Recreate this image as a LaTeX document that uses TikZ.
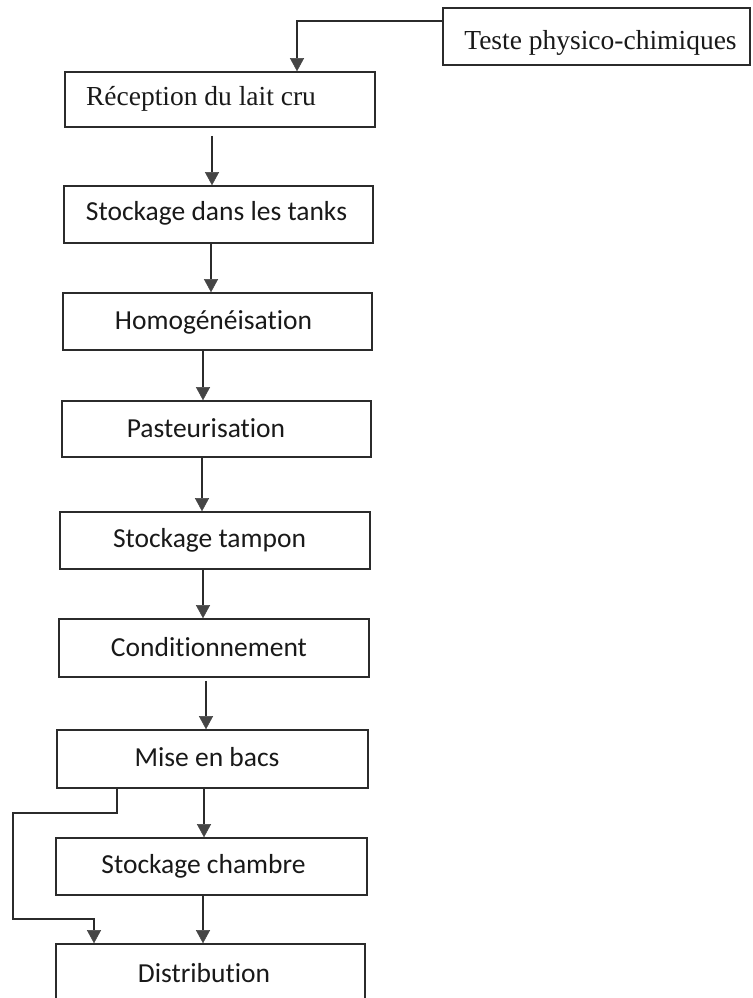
\documentclass[tikz,border=0pt]{standalone}
\usepackage{fontspec}
\setmainfont{Liberation Serif}
\newfontfamily\calib[Ligatures=NoCommon]{Carlito}
\usetikzlibrary{arrows.meta,calc}

\definecolor{ink}{HTML}{2B2B2B}
\definecolor{tipgray}{HTML}{454545}

\tikzset{
  stepbox/.style={draw=ink, line width=1.6pt, rectangle, inner sep=0pt,
    minimum width=#1, minimum height=57},
  stepbox/.default=309,
  serif/.style={font=\fontsize{27.5}{33}\selectfont, text=black!90, inner sep=0pt, anchor=base},
  sans/.style={font=\calib\fontsize{27.5}{33}\selectfont, text=black!90, inner sep=0pt, anchor=base},
  arr/.style={draw=ink, line width=1.5pt,
    -{Triangle[length=13pt, width=14pt, color=tipgray, fill=tipgray, line width=0.4pt]}},
}

\begin{document}
\begin{tikzpicture}[x=1pt, y=-1pt]
  \useasboundingbox[fill=white] (0,0) rectangle (752,998);

  % process boxes
  \node[stepbox=307] (test) at (596.5,36.5) {};
  \node[stepbox=310, minimum height=55] (recv) at (220,99.5) {};
  \node[stepbox=309] (tanks) at (218.5,214.5) {};
  \node[stepbox=309] (homog) at (217.5,321.5) {};
  \node[stepbox=309, minimum height=56] (past) at (216.5,429) {};
  \node[stepbox=310] (tampon) at (215,540.5) {};
  \node[stepbox=310, minimum height=58] (cond) at (214,648) {};
  \node[stepbox=311, minimum height=58] (bacs) at (212.5,759) {};
  \node[stepbox=311] (chambre) at (211.5,866.5) {};
  \node[stepbox=309, minimum height=56] (distr) at (210.5,972) {};

  % box texts
  \node[serif] (test-t) at (600.5,49) {Teste physico-chimiques};
  \node[serif] (recv-t) at (201,105) {Réception du lait cru};
  \node[sans] (tanks-t) at (216.5,220) {Stockage dans les tanks};
  \node[sans] (homog-t) at (213.5,329) {Homogénéisation};
  \node[sans] (past-t) at (206,437) {Pasteurisation};
  \node[sans] (tampon-t) at (209.5,547) {Stockage tampon};
  \node[sans] (cond-t) at (209,656) {Conditionnement};
  \node[sans] (bacs-t) at (207,766) {Mise en bacs};
  \node[sans] (chambre-t) at (203.5,873) {Stockage chambre};
  \node[sans] (distr-t) at (204,982) {Distribution};

  % connectors
  \draw[arr] ([yshift=-14pt]test.north west) -| ([xshift=77pt]recv.north);
  \draw[arr] ($(recv.south)+(-8,8)$) coordinate (a1) -- (a1 |- tanks.north);
  \draw[arr] ($(tanks.south)+(-7.5,0)$) coordinate (a2) -- (a2 |- homog.north);
  \draw[arr] ($(homog.south)+(-14.5,0)$) coordinate (a3) -- (a3 |- past.north);
  \draw[arr] ($(past.south)+(-14.5,0)$) coordinate (a4) -- (a4 |- tampon.north);
  \draw[arr] ($(tampon.south)+(-12,0)$) coordinate (a5) -- (a5 |- cond.north);
  \draw[arr] ($(cond.south)+(-8,3)$) coordinate (a6) -- (a6 |- bacs.north);
  \draw[arr] ($(bacs.south)+(-8.5,0)$) coordinate (a7) -- (a7 |- chambre.north);
  \draw[arr] ($(chambre.south)+(-8.5,0)$) coordinate (a8) -- (a8 |- distr.north);

  % side branch straight to distribution
  \coordinate (b0) at ($(bacs.south)+(-95.5,0)$);
  \coordinate (b1) at ($(distr.north)+(-116.5,0)$);
  \coordinate (bl) at (13,813);
  \draw[arr] (b0) |- (bl) -- ++(0,106) -| (b1);
\end{tikzpicture}
\end{document}
